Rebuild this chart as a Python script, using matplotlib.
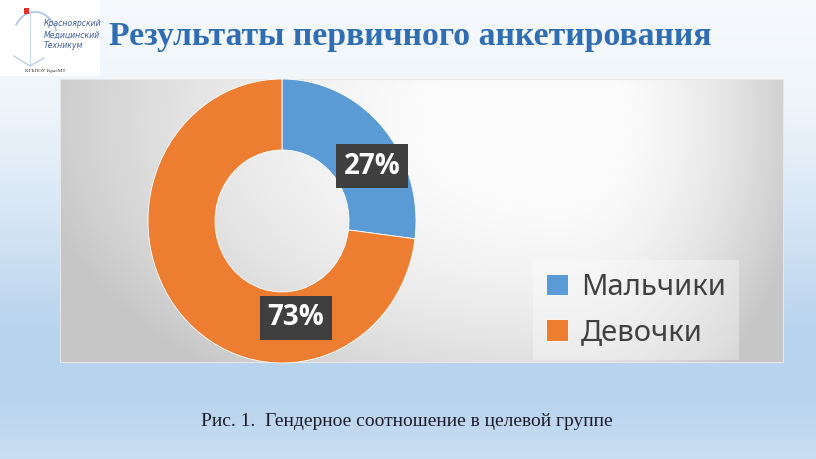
import numpy as np
import matplotlib
matplotlib.use("Agg")
import matplotlib.pyplot as plt
from matplotlib.patches import Rectangle

# ---- data ----
categories = ['Мальчики', 'Девочки']
values = [27, 73]
colors = ['#5b9bd5', '#ed7d31']
title = 'Результаты первичного анкетирования'
caption = 'Рис. 1.  Гендерное соотношение в целевой группе'
logo_lines = ['Красноярский', 'Медицинский', 'Техникум']
logo_sub = 'КГБПОУ КрасМТ'

W, H = 816, 459
fig = plt.figure(figsize=(W / 100, H / 100), dpi=100)


def fx(px):
    return px / W


def fy(py):
    return 1 - py / H


# ---- slide background (vertical gradient) ----
bg = fig.add_axes([0, 0, 1, 1], zorder=-10)
bg.set_axis_off()
stops_y = [0, 100, 200, 330, 400, 459]
stops_c = [(0.965, 0.978, 0.992), (0.94, 0.962, 0.985), (0.855, 0.91, 0.965),
           (0.725, 0.83, 0.93), (0.725, 0.83, 0.93), (0.79, 0.875, 0.95)]
ys = np.arange(H)
grad = np.zeros((H, W, 3))
for ch in range(3):
    col = np.interp(ys, stops_y, [c[ch] for c in stops_c])
    grad[:, :, ch] = col[:, None]
bg.imshow(grad, extent=[0, W, H, 0], aspect='auto')

# ---- chart area gradient ----
cx0, cx1, cy0, cy1 = 60, 783, 79, 362
xx, yy = np.meshgrid(np.arange(cx0, cx1), np.arange(cy0, cy1))
dx = xx - 560.0
dy = yy - 120.0
sx = np.where(dx < 0, 520.0, 240.0)
v = 1 - 0.21 * ((dx / sx) ** 2 + (dy / 320.0) ** 2)
v = np.clip(v, 0.78, 0.985)
img = np.dstack([v, v, v])
bg.imshow(img, extent=[cx0, cx1, cy1, cy0], aspect='auto', zorder=1)
bg.add_patch(Rectangle((cx0, cy0), cx1 - cx0, cy1 - cy0, fill=False,
                       ec='#e6e6e6', lw=0.8, zorder=2))

# ---- logo ----
bg.add_patch(Rectangle((0, 0), 100, 76, fc='white', ec='none', zorder=2))
theta = np.linspace(0.3, 2.6, 60)
bg.plot(35 + 22 * np.cos(theta), 38 - 26 * np.sin(theta), color='#a9c4e4', lw=1.2, zorder=3)
bg.plot([14, 30, 44], [56, 66, 58], color='#b9cfe8', lw=1.0, zorder=3)
bg.plot([30, 30], [66, 10], color='#c9d9ee', lw=0.8, zorder=3)
bg.add_patch(Rectangle((24, 8), 5, 6, fc='#e0302a', ec='none', zorder=3))
for i, t in enumerate(logo_lines):
    bg.text(44, 24 + i * 11, t, fontsize=5.6, color='#3a5a9c', style='italic',
            family='Liberation Sans Narrow' if False else 'DejaVu Sans',
            va='center', ha='left', zorder=4)
bg.text(25, 71, logo_sub, fontsize=3.8, color='#333333', family='Liberation Serif',
        va='center', ha='left', zorder=4)
bg.set_xlim(0, W)
bg.set_ylim(H, 0)

# ---- title & caption ----
fig.text(fx(410), fy(36), title, fontsize=24.3, fontweight='bold', color='#2f6eb3',
         family='Liberation Serif', ha='center', va='center')
fig.text(fx(407), fy(421), caption, fontsize=14, color='#1c1c2c',
         family='Liberation Serif', ha='center', va='center')

# ---- donut ----
ax = fig.add_axes([fx(148), fy(363), fx(416) - fx(148), fy(79) - fy(363)])
ax.set_axis_off()
wedges, _ = ax.pie(values, colors=colors, startangle=90, counterclock=False,
                   radius=1, wedgeprops=dict(width=0.5, edgecolor='white', linewidth=0.6))
ax.set_xlim(-1, 1)
ax.set_ylim(-1, 1)
ax.set_aspect('auto')

label_pos = [(0.672, 0.387), (0.104, -0.683)]
for val, (lx, ly) in zip(values, label_pos):
    ax.text(lx, ly, f'{val}%', fontsize=20, fontweight='bold', color='white',
            family='Open Sans', ha='center', va='center',
            bbox=dict(boxstyle='square,pad=0.27', fc='#3f3f3f', ec='none'))

# ---- legend ----
leg = fig.legend(wedges, categories, loc='center',
                 bbox_to_anchor=(fx(636), fy(310)),
                 prop=dict(family='Noto Sans', size=21),
                 frameon=True, fancybox=False, facecolor='white', framealpha=0.35,
                 edgecolor='none', handlelength=0.75, handleheight=0.75,
                 handletextpad=0.45, labelspacing=0.55, borderpad=0.45)
for t in leg.get_texts():
    t.set_color('#404040')

fig.savefig('out.png', dpi=100)
